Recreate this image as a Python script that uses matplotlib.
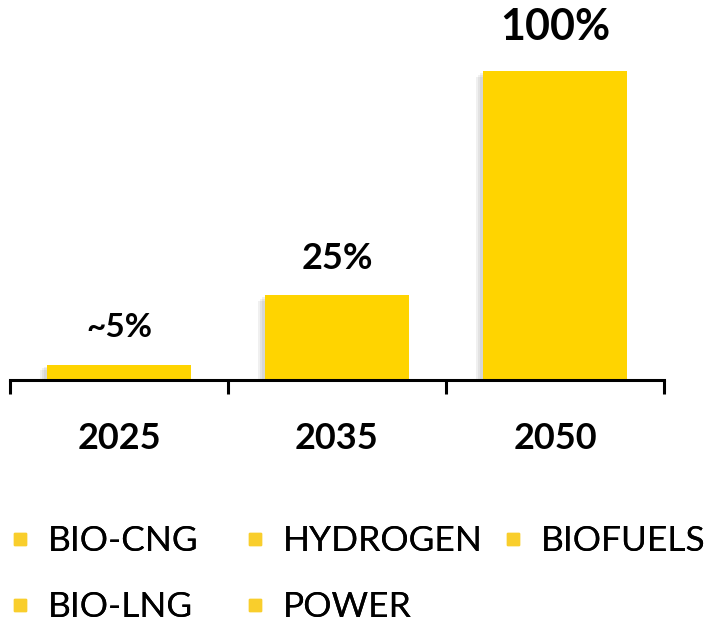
import matplotlib
matplotlib.use("Agg")
import matplotlib.pyplot as plt
import matplotlib.patheffects as pe
from matplotlib.lines import Line2D

# data
years   = ["2025", "2035", "2050"]
shares  = [5, 27.5, 100]
labels  = ["~5%", "25%", "100%"]
fuels   = ["BIO-CNG", "HYDROGEN", "BIOFUELS", "BIO-LNG", "POWER"]

BAR   = "#FFD400"
SWATCH = "#F9CE2C"

plt.rcParams["font.family"] = ["Lato", "DejaVu Sans"]

fig = plt.figure(figsize=(7.15, 6.26), dpi=100)
ax = fig.add_axes([10 / 715, 246 / 626, 654 / 715, 309 / 626])

shadow = [pe.SimplePatchShadow(offset=(-d, -d * 0.8), shadow_rgbFace="#777777", alpha=0.11)
          for d in (2, 3.5, 5)] + [pe.Normal()]
x = range(len(years))
bars = ax.bar(x, shares, width=0.665, color=BAR, zorder=2)
for b in bars:
    b.set_path_effects(shadow)

# value labels above bars
offsets = [37, 37, 44]
sizes   = [24, 26, 31]
for i, (v, lab) in enumerate(zip(shares, labels)):
    ax.annotate(lab, xy=(i, v), xytext=(0, offsets[i] * 0.72), textcoords="offset points",
                ha="center", va="center", fontsize=sizes[i], fontweight="bold",
                annotation_clip=False)

ax.set_xlim(-0.5, 2.5)
ax.set_ylim(0, 100)
for s in ("top", "right", "left"):
    ax.spines[s].set_visible(False)
ax.spines["bottom"].set_linewidth(2.2)
ax.set_yticks([])

ax.set_xticks(list(x))
ax.set_xticklabels(years, fontsize=26, fontweight="bold")
ax.tick_params(axis="x", which="major", length=0, pad=30)
ax.set_xticks([-0.5, 0.5, 1.5, 2.5], minor=True)
ax.tick_params(axis="x", which="minor", length=10, width=2.2, direction="out")

# legend, one column per legend box so the columns sit where the reference has them
columns = [[0, 3], [1, 4], [2]]
col_x = [8, 243, 501]
for cols, cx in zip(columns, col_x):
    handles = [Line2D([], [], marker="s", ls="none", color=SWATCH, markersize=8) for _ in cols]
    leg = fig.legend(handles, [fuels[k] for k in cols], loc="upper left",
                     bbox_to_anchor=(cx / 715, 1 - 525 / 626), frameon=False, fontsize=25.5,
                     handlelength=0.66, handletextpad=0.45, labelspacing=0.97,
                     borderpad=0, borderaxespad=0)
    fig.add_artist(leg)

fig.savefig("out.png", dpi=100, facecolor="white")
